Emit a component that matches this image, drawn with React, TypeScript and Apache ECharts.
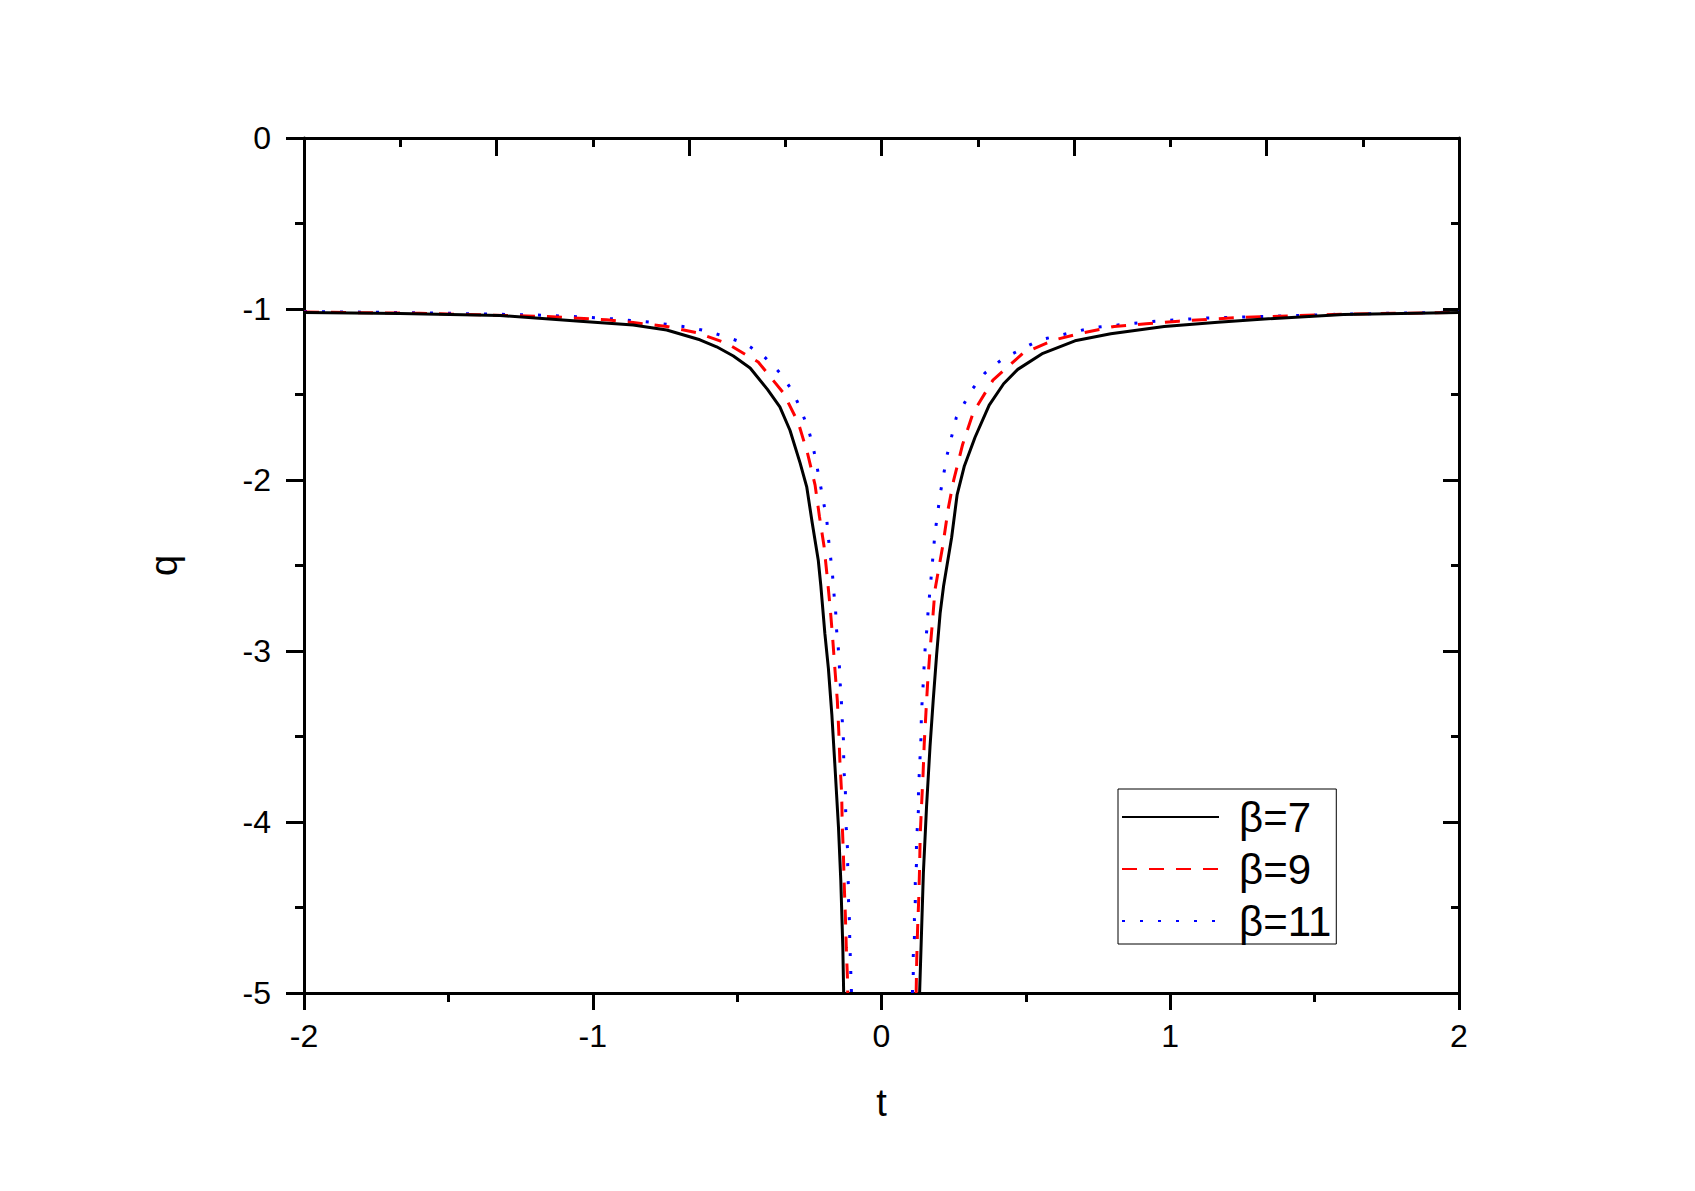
import React, { useEffect, useRef } from "react";
import * as echarts from "echarts";

const xTickLabels = ["-2", "-1", "0", "1", "2"];
const yTickLabels = ["-5", "-4", "-3", "-2", "-1", "0"];
const seriesNames = ["β=7", "β=9", "β=11"];

const beta7Left: number[][] = [
  [-2.0, -1.02], [-1.668, -1.026], [-1.321, -1.038], [-1.044, -1.071], [-0.86, -1.094],
  [-0.744, -1.123], [-0.629, -1.18], [-0.571, -1.221], [-0.513, -1.275], [-0.455, -1.345],
  [-0.395, -1.47], [-0.352, -1.572], [-0.317, -1.709], [-0.282, -1.9], [-0.259, -2.04],
  [-0.24, -2.25], [-0.219, -2.469], [-0.21, -2.62], [-0.196, -2.9], [-0.184, -3.1],
  [-0.172, -3.37], [-0.161, -3.68], [-0.149, -4.03], [-0.141, -4.34], [-0.134, -4.73],
  [-0.131, -5.0],
];
const beta7Right: number[][] = [
  [0.132, -5.0], [0.137, -4.73], [0.145, -4.3], [0.156, -3.91], [0.168, -3.56],
  [0.179, -3.29], [0.191, -3.02], [0.203, -2.78], [0.215, -2.62], [0.243, -2.335],
  [0.262, -2.085], [0.287, -1.918], [0.324, -1.75], [0.373, -1.562], [0.423, -1.437],
  [0.472, -1.353], [0.559, -1.259], [0.67, -1.186], [0.794, -1.145], [0.979, -1.102],
  [1.165, -1.077], [1.301, -1.061], [1.6, -1.032], [2.0, -1.02],
];
const beta9Left: number[][] = [
  [-2.0, -1.018], [-1.6, -1.025], [-1.16, -1.044], [-0.952, -1.063], [-0.86, -1.079],
  [-0.744, -1.102], [-0.64, -1.138], [-0.536, -1.201], [-0.427, -1.31], [-0.34, -1.49],
  [-0.288, -1.666], [-0.256, -1.845], [-0.23, -2.03], [-0.215, -2.212], [-0.199, -2.387],
  [-0.188, -2.567], [-0.178, -2.742], [-0.169, -2.928], [-0.161, -3.113], [-0.153, -3.289],
  [-0.148, -3.468], [-0.144, -3.649], [-0.138, -3.835], [-0.136, -4.01], [-0.132, -4.186],
  [-0.129, -4.371], [-0.125, -4.552], [-0.122, -4.732], [-0.118, -4.907], [-0.117, -5.0],
];
const beta9Right: number[][] = [
  [0.12, -5.0], [0.122, -4.81], [0.125, -4.624], [0.129, -4.449], [0.132, -4.264],
  [0.134, -4.078], [0.139, -3.893], [0.144, -3.718], [0.148, -3.542], [0.154, -3.357],
  [0.16, -3.181], [0.168, -2.996], [0.177, -2.82], [0.185, -2.645], [0.213, -2.377],
  [0.231, -2.168], [0.25, -2.001], [0.281, -1.792], [0.318, -1.604], [0.386, -1.416],
  [0.49, -1.259], [0.596, -1.182], [0.701, -1.138], [0.806, -1.102], [0.917, -1.086],
  [1.029, -1.071], [1.128, -1.061], [1.239, -1.05], [1.6, -1.03], [2.0, -1.02],
];
const beta11Left: number[][] = [
  [-2.0, -1.015], [-1.6, -1.022], [-1.2, -1.035], [-1.044, -1.046], [-0.917, -1.059],
  [-0.79, -1.079], [-0.663, -1.108], [-0.6, -1.131], [-0.538, -1.163], [-0.473, -1.201],
  [-0.411, -1.27], [-0.352, -1.373], [-0.308, -1.48], [-0.28, -1.586], [-0.255, -1.693],
  [-0.238, -1.796], [-0.225, -1.908], [-0.213, -2.015], [-0.202, -2.118], [-0.19, -2.225],
  [-0.184, -2.337], [-0.177, -2.442], [-0.17, -2.547], [-0.165, -2.658], [-0.159, -2.762],
  [-0.156, -2.869], [-0.15, -2.972], [-0.146, -3.084], [-0.143, -3.191], [-0.139, -3.294],
  [-0.136, -3.402], [-0.132, -3.513], [-0.131, -3.616], [-0.129, -3.721], [-0.125, -3.827],
  [-0.124, -3.936], [-0.122, -4.045], [-0.118, -4.15], [-0.117, -4.258], [-0.115, -4.365],
  [-0.114, -4.472], [-0.111, -4.576], [-0.11, -4.687], [-0.108, -4.794], [-0.106, -4.898],
  [-0.104, -5.0],
];
const beta11Right: number[][] = [
  [0.107, -5.0], [0.11, -4.888], [0.11, -4.782], [0.114, -4.677], [0.114, -4.566],
  [0.117, -4.463], [0.117, -4.355], [0.121, -4.248], [0.121, -4.139], [0.124, -4.033],
  [0.128, -3.928], [0.128, -3.817], [0.131, -3.712], [0.134, -3.604], [0.137, -3.499],
  [0.138, -3.39], [0.141, -3.283], [0.145, -3.177], [0.148, -3.074], [0.152, -2.963],
  [0.158, -2.856], [0.162, -2.752], [0.168, -2.645], [0.185, -2.315], [0.203, -2.085],
  [0.227, -1.855], [0.259, -1.635], [0.314, -1.47], [0.358, -1.375], [0.42, -1.291],
  [0.546, -1.182], [0.732, -1.109], [0.924, -1.075], [1.115, -1.053], [1.307, -1.044],
  [1.6, -1.03], [2.0, -1.018],
];

const FONT = "'Liberation Sans', Arial, sans-serif";

export default function App() {
  const ref = useRef<HTMLDivElement>(null);
  useEffect(() => {
    if (!ref.current) return;
    const chart = echarts.init(ref.current, undefined, { renderer: "svg" });
    const axisLine = { show: true, onZero: false, lineStyle: { color: "#000", width: 3 } };
    const styles = [
      { color: "#000000", width: 3, type: "solid" as any },
      { color: "#ff0000", width: 3, type: [15, 12] as any },
      { color: "#0000ff", width: 3, type: [3, 15] as any },
    ];
    const branches = [
      [beta7Left, beta7Right],
      [beta9Left, beta9Right],
      [beta11Left, beta11Right],
    ];
    const series: any[] = [];
    branches.forEach((pair, i) => {
      pair.forEach((data) => {
        series.push({
          name: seriesNames[i],
          type: "line",
          data,
          xAxisIndex: 0,
          yAxisIndex: 0,
          showSymbol: false,
          symbol: "none",
          smooth: false,
          clip: true,
          lineStyle: styles[i],
          itemStyle: { color: styles[i].color },
          z: 3 - i,
        });
      });
    });
    chart.setOption({
      animation: false,
      backgroundColor: "#ffffff",
      textStyle: { fontFamily: FONT },
      grid: { left: 304, top: 138, width: 1155, height: 855, containLabel: false },
      legend: {
        data: seriesNames,
        orient: "vertical",
        left: 1118,
        top: 789,
        itemWidth: 97,
        itemHeight: 14,
        itemGap: 10,
        padding: [7, 5, 2, 3],
        borderColor: "#000",
        borderWidth: 1,
        backgroundColor: "#fff",
        itemStyle: { opacity: 0 },
        textStyle: { fontSize: 42, color: "#000", fontFamily: FONT, padding: [0, 0, 0, 15], lineHeight: 42 },
        selectedMode: false,
      },
      xAxis: [
        {
          type: "value",
          min: -2,
          max: 2,
          interval: 1,
          position: "bottom",
          name: "t",
          nameLocation: "middle",
          nameGap: 91,
          nameTextStyle: { fontSize: 38, color: "#000", fontFamily: FONT },
          axisLine,
          axisTick: { show: true, inside: false, length: 17, lineStyle: { color: "#000", width: 3 } },
          minorTick: { show: true, splitNumber: 2, length: 9, lineStyle: { color: "#000", width: 3 } },
          axisLabel: {
            fontSize: 32,
            color: "#000",
            margin: 27,
            fontFamily: FONT,
            formatter: (v: number) => xTickLabels[Math.round(v + 2)] ?? "",
          },
          splitLine: { show: false },
        },
        {
          type: "value",
          min: 0,
          max: 12,
          interval: 2,
          position: "top",
          axisLine,
          axisTick: { show: true, inside: true, length: 18, lineStyle: { color: "#000", width: 3 } },
          minorTick: { show: true, splitNumber: 2, length: 9, lineStyle: { color: "#000", width: 3 } },
          axisLabel: { show: false },
          splitLine: { show: false },
        },
      ],
      yAxis: [
        {
          type: "value",
          min: -5,
          max: 0,
          interval: 1,
          position: "left",
          name: "q",
          nameLocation: "middle",
          nameGap: 121,
          nameTextStyle: { fontSize: 38, color: "#000", fontFamily: FONT },
          axisLine,
          axisTick: { show: true, inside: false, length: 18, lineStyle: { color: "#000", width: 3 } },
          minorTick: { show: true, splitNumber: 2, length: 9, lineStyle: { color: "#000", width: 3 } },
          axisLabel: {
            fontSize: 32,
            color: "#000",
            margin: 33,
            fontFamily: FONT,
            formatter: (v: number) => yTickLabels[Math.round(v + 5)] ?? "",
          },
          splitLine: { show: false },
        },
        {
          type: "value",
          min: -5,
          max: 0,
          interval: 1,
          position: "right",
          axisLine,
          axisTick: { show: true, inside: true, length: 16, lineStyle: { color: "#000", width: 3 } },
          minorTick: { show: true, splitNumber: 2, length: 8, lineStyle: { color: "#000", width: 3 } },
          axisLabel: { show: false },
          splitLine: { show: false },
        },
      ],
      series,
    });
    return () => chart.dispose();
  }, []);
  return (
    <div
      ref={ref}
      style={{ position: "absolute", left: 0, top: 0, width: 1695, height: 1191, background: "#fff" }}
    />
  );
}
